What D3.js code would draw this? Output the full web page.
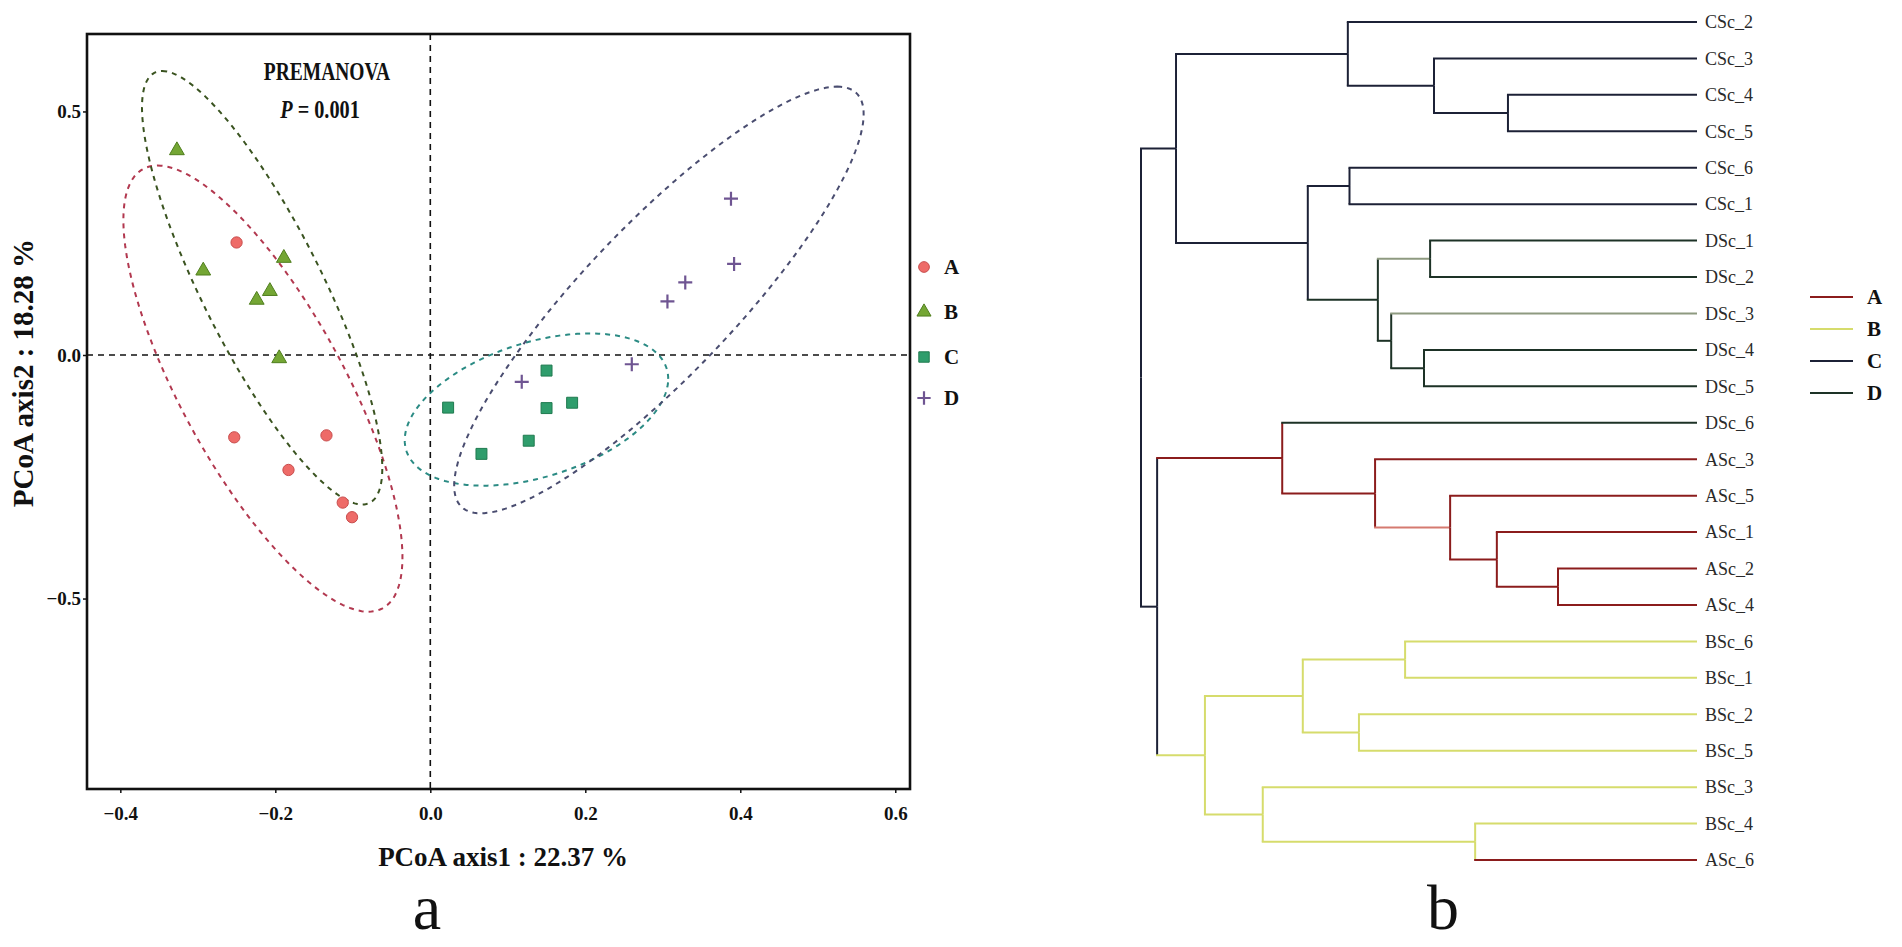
<!doctype html>
<html>
  <head>
    <meta charset="utf-8">
    <title>PCoA and clustering</title>
    <script src="https://cdn.jsdelivr.net/npm/d3@7"></script>
    <style>
      html, body { margin:0; padding:0; background:#fff; overflow:hidden }
      svg { display:block }
      text { font-family: "Liberation Serif", "Times New Roman", serif; fill:#111 }
    </style>
  </head>
  <body>
    <div id="chart"></div>
    <script>
      // ---- data ----
      var groups = ["A", "B", "C", "D"];

      // PCoA scores, one pair of arrays per group
      var axis1A = [-0.250, -0.253, -0.134, -0.183, -0.113, -0.101];
      var axis2A = [ 0.231, -0.169, -0.165, -0.236, -0.303, -0.333];
      var axis1B = [-0.327, -0.293, -0.189, -0.224, -0.207, -0.195];
      var axis2B = [ 0.420,  0.173,  0.199,  0.113,  0.131, -0.007];
      var axis1C = [ 0.023,  0.150,  0.150,  0.183,  0.127,  0.066];
      var axis2C = [-0.108, -0.032, -0.109, -0.098, -0.176, -0.203];
      var axis1D = [ 0.118,  0.260,  0.306,  0.329,  0.388,  0.392];
      var axis2D = [-0.055, -0.019,  0.110,  0.149,  0.321,  0.187];

      // confidence ellipses (centre and two conjugate semi-axes, in data units)
      var ellipseCx = [-0.216, -0.217, 0.137, 0.295];
      var ellipseCy = [-0.069,  0.138, -0.112, 0.113];
      var ellipseA  = [[-0.136, 0.458], [-0.129, 0.445], [0.170, 0.063], [0.230, 0.438]];
      var ellipseB  = [[ 0.118, 0.000], [ 0.086, 0.000], [0.000, 0.143], [0.130, 0.000]];

      var xTicks = [-0.4, -0.2, 0.0, 0.2, 0.4, 0.6];
      var yTicks = [-0.5, 0.0, 0.5];
      var xTitle = "PCoA axis1 : 22.37 %";
      var yTitle = "PCoA axis2 : 18.28 %";

      // dendrogram: leaf order and merges [id, left, right, height, group]
      var leafNames = ["CSc_2","CSc_3","CSc_4","CSc_5","CSc_6","CSc_1",
                       "DSc_1","DSc_2","DSc_3","DSc_4","DSc_5","DSc_6",
                       "ASc_3","ASc_5","ASc_1","ASc_2","ASc_4",
                       "BSc_6","BSc_1","BSc_2","BSc_5","BSc_3","BSc_4","ASc_6"];
      var merges = [
        ["n1", "CSc_4", "CSc_5", 0.340, "C"],
        ["n2", "CSc_3", "n1",    0.473, "C"],
        ["n3", "CSc_2", "n2",    0.628, "C"],
        ["n4", "CSc_6", "CSc_1", 0.625, "C"],
        ["n5", "DSc_1", "DSc_2", 0.480, "D"],
        ["n6", "DSc_4", "DSc_5", 0.491, "D"],
        ["n7", "DSc_3", "n6",    0.550, "D"],
        ["n8", "n5",    "n7",    0.574, "D"],
        ["n9", "n4",    "n8",    0.700, "C"],
        ["n10","n3",    "n9",    0.937, "C"],
        ["n11","ASc_2", "ASc_4", 0.250, "A"],
        ["n12","ASc_1", "n11",   0.360, "A"],
        ["n13","ASc_5", "n12",   0.444, "A"],
        ["n14","ASc_3", "n13",   0.579, "A"],
        ["n15","DSc_6", "n14",   0.746, "A"],
        ["n16","BSc_6", "BSc_1", 0.525, "B"],
        ["n17","BSc_2", "BSc_5", 0.608, "B"],
        ["n18","n16",   "n17",   0.709, "B"],
        ["n19","BSc_4", "ASc_6", 0.399, "B"],
        ["n20","BSc_3", "n19",   0.781, "B"],
        ["n21","n18",   "n20",   0.885, "B"],
        ["n22","n15",   "n21",   0.971, "C"],
        ["n23","n10",   "n22",   1.000, "C"]
      ];
      var fadedLinks = ["n5", "DSc_3", "n13"];

      // ---- styles ----
      var pointFill   = {A:"#ee6b68", B:"#74a634", C:"#2f9d6c", D:"#6f5592"};
      var pointStroke = {A:"#c84c4c", B:"#4f7e1d", C:"#1f7a4f", D:"#6f5592"};
      var ellipseCol  = {A:"#b2384f", B:"#3a5320", C:"#2b8b84", D:"#4a4d70"};
      var treeCol     = {A:"#8b1c1c", B:"#d6dc6c", C:"#1c2136", D:"#1d3226"};
      var treeFaded   = {A:"#d57a70", B:"#e4e89a", C:"#3b4272", D:"#8e9a80"};

      var svg = d3.select("#chart").append("svg")
        .attr("width", 1902).attr("height", 947);

      // ================= panel a : PCoA =================
      var x = d3.scaleLinear().domain([-0.443, 0.619]).range([87, 910]);
      var y = d3.scaleLinear().domain([-0.891, 0.659]).range([789, 34]);

      var pa = svg.append("g");

      // zero lines
      pa.append("line").attr("x1", x(0)).attr("x2", x(0))
        .attr("y1", y.range()[1]).attr("y2", y.range()[0])
        .attr("stroke", "#111").attr("stroke-width", 1.6).attr("stroke-dasharray", "6,5");
      pa.append("line").attr("x1", x.range()[0]).attr("x2", x.range()[1])
        .attr("y1", y(0)).attr("y2", y(0))
        .attr("stroke", "#111").attr("stroke-width", 1.6).attr("stroke-dasharray", "6,5");

      // ellipses
      var steps = d3.range(0, 2 * Math.PI, Math.PI / 90);
      var ellLine = d3.line().curve(d3.curveLinearClosed);
      groups.forEach(function(g, i) {
        var pts = steps.map(function(t) {
          var ex = ellipseCx[i] + ellipseA[i][0] * Math.cos(t) + ellipseB[i][0] * Math.sin(t);
          var ey = ellipseCy[i] + ellipseA[i][1] * Math.cos(t) + ellipseB[i][1] * Math.sin(t);
          return [x(ex), y(ey)];
        });
        pa.append("path").attr("d", ellLine(pts))
          .attr("fill", "none").attr("stroke", ellipseCol[g])
          .attr("stroke-width", 2).attr("stroke-dasharray", "5,5");
      });

      // points
      var xs = {A:axis1A, B:axis1B, C:axis1C, D:axis1D};
      var ys = {A:axis2A, B:axis2B, C:axis2C, D:axis2D};
      var shape = {A:d3.symbolCircle, B:d3.symbolTriangle, C:d3.symbolSquare};
      var size  = {A:100, B:95, C:120};

      function drawMark(sel, g, px, py, k) {
        if (g === "D") {
          var h = 7 * k;
          sel.append("path")
            .attr("d", "M" + (px - h) + "," + py + "H" + (px + h) + "M" + px + "," + (py - h) + "V" + (py + h))
            .attr("stroke", pointStroke[g]).attr("stroke-width", 2.2).attr("fill", "none");
        } else {
          sel.append("path")
            .attr("d", d3.symbol().type(shape[g]).size(size[g] * k * k)())
            .attr("transform", "translate(" + px + "," + py + ")")
            .attr("fill", pointFill[g]).attr("stroke", pointStroke[g]).attr("stroke-width", 1);
        }
      }

      groups.forEach(function(g) {
        xs[g].forEach(function(v, i) {
          drawMark(pa, g, x(v), y(ys[g][i]), 1);
        });
      });

      // frame
      pa.append("rect")
        .attr("x", x.range()[0]).attr("y", y.range()[1])
        .attr("width", x.range()[1] - x.range()[0]).attr("height", y.range()[0] - y.range()[1])
        .attr("fill", "none").attr("stroke", "#111").attr("stroke-width", 2.6);

      // axes
      var xAxis = pa.append("g").attr("transform", "translate(0," + y.range()[0] + ")")
        .call(d3.axisBottom(x).tickValues(xTicks).tickFormat(d3.format(".1f"))
          .tickSize(4).tickPadding(14));
      var yAxis = pa.append("g").attr("transform", "translate(" + x.range()[0] + ",0)")
        .call(d3.axisLeft(y).tickValues(yTicks).tickFormat(d3.format(".1f"))
          .tickSize(4).tickPadding(2));
      [xAxis, yAxis].forEach(function(a) {
        a.select(".domain").remove();
        a.selectAll(".tick line").attr("stroke", "#111").attr("stroke-width", 1.5);
        a.selectAll(".tick text")
          .attr("font-family", "Liberation Serif, serif")
          .attr("font-size", 19).attr("font-weight", "bold").attr("fill", "#111");
      });

      // titles
      pa.append("text").text(xTitle)
        .attr("x", 503).attr("y", 866).attr("text-anchor", "middle")
        .attr("font-size", 27).attr("font-weight", "bold");
      pa.append("text").text(yTitle)
        .attr("transform", "translate(33,373) rotate(-90)").attr("text-anchor", "middle")
        .attr("font-size", 29).attr("font-weight", "bold");

      pa.append("text").text("PREMANOVA")
        .attr("transform", "translate(327,80) scale(0.78,1)").attr("text-anchor", "middle")
        .attr("font-size", 25).attr("font-weight", "bold");
      var pt = pa.append("text")
        .attr("transform", "translate(320,118) scale(0.78,1)").attr("text-anchor", "middle")
        .attr("font-size", 26).attr("font-weight", "bold");
      pt.append("tspan").attr("font-style", "italic").text("P");
      pt.append("tspan").text(" = 0.001");

      // legend
      var legY = [267, 312, 357, 398];
      groups.forEach(function(g, i) {
        drawMark(pa, g, 924, legY[i], 0.95);
        pa.append("text").text(g).attr("x", 944).attr("y", legY[i])
          .attr("dy", "0.35em").attr("font-size", 21).attr("font-weight", "bold");
      });

      pa.append("text").text("a").attr("x", 427).attr("y", 929)
        .attr("text-anchor", "middle").attr("font-size", 64);

      // ================= panel b : dendrogram =================
      var nodes = {};
      leafNames.forEach(function(n) { nodes[n] = {name:n, h:0, group:n.charAt(0)}; });
      merges.forEach(function(m) {
        nodes[m[0]] = {name:m[0], h:m[3], group:m[4], children:[nodes[m[1]], nodes[m[2]]]};
      });
      var root = d3.hierarchy(nodes[merges[merges.length - 1][0]]);

      var hx = d3.scaleLinear().domain([1, 0]).range([1141, 1697]);
      var ly = d3.scalePoint().domain(leafNames).range([22, 860]);

      root.eachAfter(function(d) {
        d.px = hx(d.data.h);
        d.py = d.children ? d3.mean(d.children, function(c) { return c.py; }) : ly(d.data.name);
      });

      var pb = svg.append("g");
      root.descendants().forEach(function(d) {
        if (!d.parent) return;
        var p = d.parent;
        pb.append("path")
          .attr("d", "M" + p.px + "," + p.py + "V" + d.py)
          .attr("stroke", treeCol[p.data.group]).attr("stroke-width", 2).attr("fill", "none");
        var col = fadedLinks.indexOf(d.data.name) >= 0 ? treeFaded[d.data.group] : treeCol[d.data.group];
        pb.append("path")
          .attr("d", "M" + (p.px - 1) + "," + d.py + "H" + d.px)
          .attr("stroke", col).attr("stroke-width", 2).attr("fill", "none");
      });

      pb.selectAll("text.leaf").data(root.leaves()).enter().append("text")
        .attr("class", "leaf")
        .attr("x", function(d) { return d.px + 8; })
        .attr("y", function(d) { return d.py; })
        .attr("dy", "0.35em").attr("font-size", 18).style("fill", "#2a2a2a")
        .text(function(d) { return d.data.name; });

      var treeLegY = [297, 329, 361, 393];
      groups.forEach(function(g, i) {
        pb.append("line").attr("x1", 1810).attr("x2", 1853)
          .attr("y1", treeLegY[i]).attr("y2", treeLegY[i])
          .attr("stroke", treeCol[g]).attr("stroke-width", 2);
        pb.append("text").text(g).attr("x", 1867).attr("y", treeLegY[i])
          .attr("dy", "0.35em").attr("font-size", 21).attr("font-weight", "bold");
      });

      pb.append("text").text("b").attr("x", 1443).attr("y", 929)
        .attr("text-anchor", "middle").attr("font-size", 64);
    </script>
  </body>
</html>
